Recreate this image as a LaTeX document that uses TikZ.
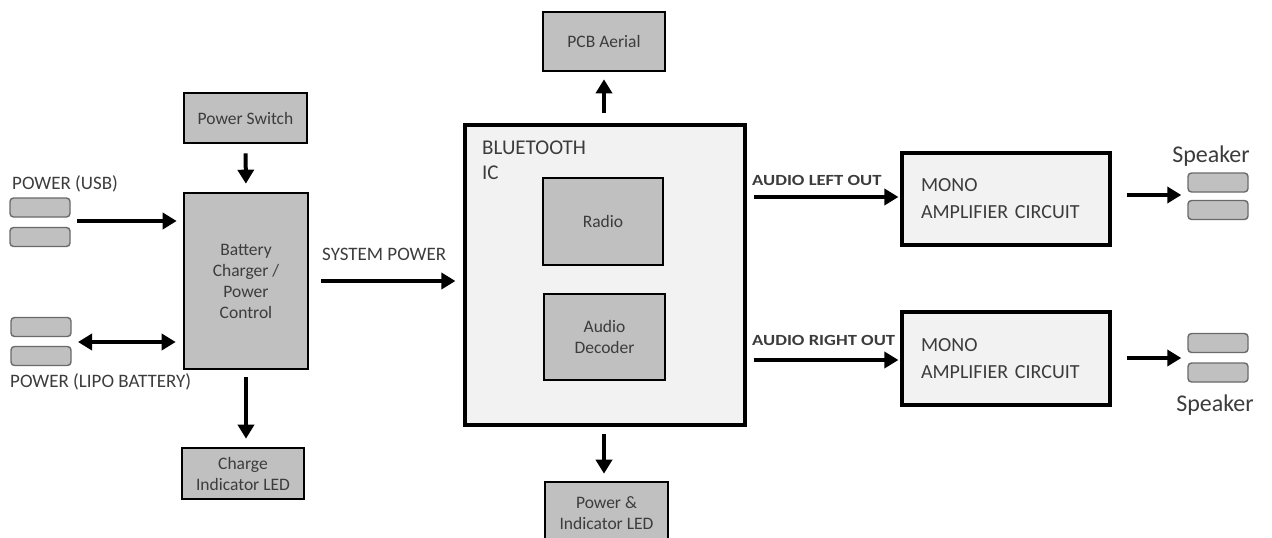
\documentclass[tikz,border=0pt]{standalone}
\usepackage{fontspec}
\setmainfont{Carlito}
\usetikzlibrary{arrows.meta}
\definecolor{boxgray}{HTML}{C0C0C0}
\definecolor{light}{HTML}{F2F2F2}
\definecolor{txt}{HTML}{3C3C3C}
\definecolor{conedge}{HTML}{6A6A6A}
\tikzset{
  gbox/.style={draw=black, line width=2.6pt, fill=boxgray, text=txt, align=center, inner sep=0pt, font=\fontsize{17.5}{21}\selectfont},
  lbox/.style={draw=black, line width=3.2pt, fill=light, text=txt, inner sep=0pt},
  conn/.style={draw=conedge, line width=1.4pt, fill=boxgray, rounded corners=3.5pt, minimum width=60pt, minimum height=19pt, inner sep=0pt},
  arr/.style={line width=4pt, -{Triangle[length=14pt,width=16pt]}},
  darr/.style={line width=4pt, {Triangle[length=14pt,width=16pt]}-{Triangle[length=14pt,width=16pt]}},
  lab/.style={text=txt, inner sep=0pt, anchor=west},
}
\begin{document}
\begin{tikzpicture}[x=1pt,y=-1pt]
\useasboundingbox (0,0) rectangle (1272,538);
% left side
\node[gbox, minimum width=123pt, minimum height=50pt] (ps) at (245.5,118) {Power Switch};
\node[gbox, minimum width=124pt, minimum height=176pt] (chg) at (246,281) {Battery\\Charger /\\Power\\Control};
\node[gbox, minimum width=122pt, minimum height=51pt] (cled) at (243,473.5) {Charge\\Indicator LED};
\node[conn] (usb1) at (40,207.5) {};
\node[conn] (usb2) at (40,237) {};
\node[conn] (lipo1) at (41,327) {};
\node[conn] (lipo2) at (41,356) {};
\coordinate (usb) at (40,221);
\coordinate (lipo) at (41,342);
\node[lab, font=\fontsize{19}{22}\selectfont] (usblab) at (12,184) {POWER (USB)};
\node[lab, font=\fontsize{19}{22}\selectfont] (lipolab) at (10,382) {POWER (LIPO BATTERY)};
\node[lab, font=\fontsize{19}{22}\selectfont] (syslab) at (322,254) {SYSTEM POWER};
% centre
\node[gbox, minimum width=122pt, minimum height=59pt] (pcb) at (604,41.5) {PCB Aerial};
\node[lbox, minimum width=280pt, minimum height=300pt] (bt) at (605,275) {};
\node[lab, font=\fontsize{21}{25}\selectfont, anchor=north west, align=left] (btlab) at (482,141) {BLUETOOTH\\IC};
\node[gbox, minimum width=120pt, minimum height=87pt] (radio) at (603,221.5) {Radio};
\node[gbox, minimum width=121pt, minimum height=86pt] (dec) at (604.5,337) {Audio\\Decoder};
\node[gbox, minimum width=123pt, minimum height=63pt] (pled) at (606.5,513.5) {Power \&\\Indicator LED};
% right side
\node[lbox, minimum width=208pt, minimum height=92pt, text width=170pt, align=left, font=\fontsize{20}{27}\selectfont] (amp1) at (1006,199) {MONO\\AMPLIFIER CIRCUIT};
\node[lbox, minimum width=208pt, minimum height=93pt, text width=170pt, align=left, font=\fontsize{20}{27}\selectfont] (amp2) at (1006,358.5) {MONO\\AMPLIFIER CIRCUIT};
\node[lab, font=\fontsize{15.5}{18}\selectfont\bfseries] (alab) at (752,180) {\scalebox{1.2}[1]{AUDIO LEFT OUT}};
\node[lab, font=\fontsize{15.5}{18}\selectfont\bfseries] (blab) at (752,340) {\scalebox{1.2}[1]{AUDIO RIGHT OUT}};
\node[conn] (spk1a) at (1218,182.5) {};
\node[conn] (spk1b) at (1218,210) {};
\node[conn] (spk2a) at (1218,343) {};
\node[conn] (spk2b) at (1218,372.5) {};
\coordinate (spk1) at (1218,195);
\coordinate (spk2) at (1218,358);
\node[text=txt, inner sep=0pt, font=\fontsize{24}{28}\selectfont] (spk1lab) at (1211,156) {Speaker};
\node[text=txt, inner sep=0pt, font=\fontsize{24}{28}\selectfont] (spk2lab) at (1215,405) {Speaker};
% connectors
\draw[arr, shorten <=9pt, shorten >=8pt] (ps.south) -- (chg.north);
\draw[arr, shorten <=37pt, shorten >=6pt] (usb) -- (usb -| chg.west);
\draw[darr, shorten <=37pt, shorten >=7pt] (lipo) -- (lipo -| chg.west);
\draw[arr, shorten <=7pt, shorten >=8pt] (chg.south) -- (cled.north -| chg.south);
\draw[arr, shorten <=12pt, shorten >=8pt] (chg.east) -- (bt.west |- chg.east);
\draw[arr, shorten <=10pt, shorten >=7pt] (bt.north -| pcb.south) -- (pcb.south);
\draw[arr, shorten <=7pt, shorten >=7pt] (bt.south -| 604,0) -- (pled.north -| 604,0);
\draw[arr, shorten <=7pt, shorten >=2pt] (bt.east |- 0,197) -- (amp1.west |- 0,197);
\draw[arr, shorten <=7pt, shorten >=2pt] (bt.east |- 0,360) -- (amp2.west |- 0,360);
\draw[arr, shorten <=15pt, shorten >=6pt] (amp1.east |- spk1) -- (spk1 -| spk1a.west);
\draw[arr, shorten <=15pt, shorten >=6pt] (amp2.east |- spk2) -- (spk2 -| spk2a.west);
\end{tikzpicture}
\end{document}
